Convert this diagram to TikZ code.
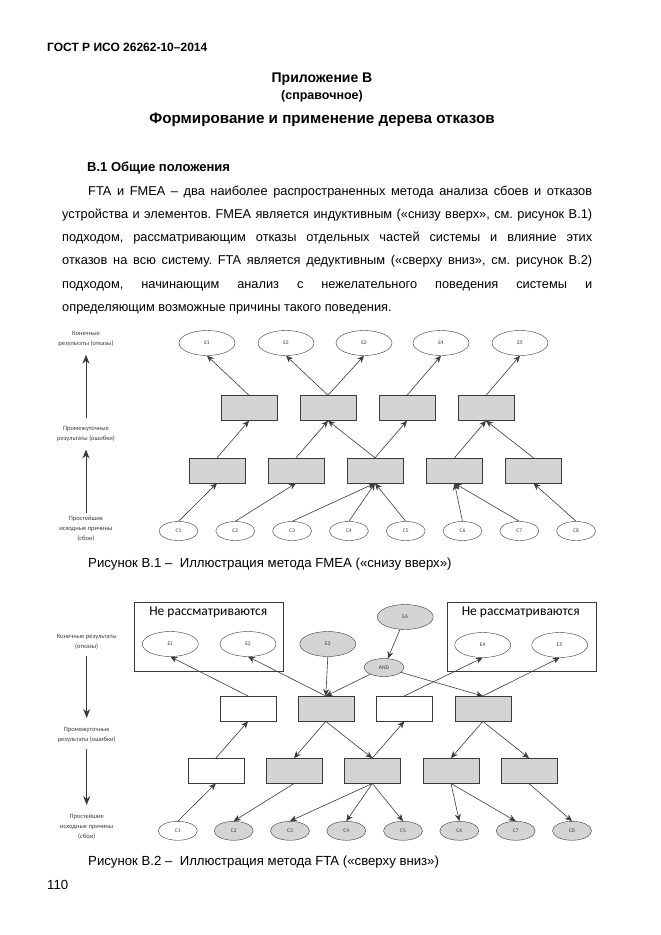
\documentclass[tikz,border=0pt]{standalone}
\usepackage{fontspec}
\setmainfont{Liberation Sans}
\newfontfamily\calfont{Carlito}
\usetikzlibrary{arrows.meta,shapes.geometric}
\definecolor{boxgray}{HTML}{D4D4D4}
\definecolor{edge}{HTML}{3A3A3A}
\frenchspacing

\begin{document}
\begin{tikzpicture}[
    x=1pt, y=-1pt,
    >={Stealth[length=7pt,width=6pt]},
    txt/.style={inner sep=0pt, anchor=base west, font=\fontsize{12.8}{15}\selectfont},
    hd/.style={inner sep=0pt, anchor=base, font=\bfseries\fontsize{15.2}{18}\selectfont},
    box/.style={draw=edge, fill=boxgray, minimum width=56pt, minimum height=25pt, inner sep=0pt},
    wbox/.style={box, fill=white},
    ev/.style={draw=edge, fill=white, ellipse, minimum width=56pt, minimum height=25pt, inner sep=0pt,
               font=\calfont\fontsize{5.5}{6}\selectfont, text=edge},
    gev/.style={ev, fill=boxgray},
    cause/.style={ev, minimum width=39pt, minimum height=19pt},
    gcause/.style={cause, fill=boxgray},
    frame/.style={draw=edge, minimum width=149pt, minimum height=69pt, inner sep=0pt},
    side/.style={align=center, inner sep=0pt, font=\calfont\fontsize{6.5}{9.8}\selectfont, text=edge},
    link/.style={draw=edge, line width=0.6pt, ->},
    axis/.style={draw=edge, line width=1pt, -{Stealth[length=9pt,width=7pt]}},
  ]
  \useasboundingbox (0,0) rectangle (661,935);

  % page text
  \node[txt, font=\bfseries\fontsize{12}{14}\selectfont] (gost) at (47,51) {ГОСТ Р ИСО 26262-10–2014};
  \node[hd, font=\bfseries\fontsize{14}{17}\selectfont] (app) at (322,82) {Приложение В};
  \node[hd, font=\bfseries\fontsize{12.5}{15}\selectfont] (ref) at (322,99) {(справочное)};
  \node[hd] (title) at (322,123) {Формирование и применение дерева отказов};
  \node[txt, font=\bfseries\fontsize{13}{15}\selectfont] (sec) at (87,171.5) {В.1 Общие положения};
  \node[txt] (p1) at (88,195) {\makebox[504pt][s]{FTA и FMEA – два наиболее распространенных метода анализа сбоев и отказов}};
  \node[txt] (p2) at (62,218.3) {\makebox[530pt][s]{устройства и элементов. FMEA является индуктивным («снизу вверх», см. рисунок В.1)}};
  \node[txt] (p3) at (62,241.6) {\makebox[530pt][s]{подходом, рассматривающим отказы отдельных частей системы и влияние этих}};
  \node[txt] (p4) at (62,264.9) {\makebox[530pt][s]{отказов на всю систему. FTA является дедуктивным («сверху вниз», см. рисунок В.2)}};
  \node[txt] (p5) at (62,288.2) {\makebox[530pt][s]{подходом, начинающим анализ с нежелательного поведения системы и}};
  \node[txt] (p6) at (62,311.5) {определяющим возможные причины такого поведения.};
  \node[txt, font=\fontsize{13.2}{15}\selectfont] (cap1) at (88,567.5) {Рисунок В.1 –\ \ Иллюстрация метода FMEA («снизу вверх»)};
  \node[txt, font=\fontsize{13.2}{15}\selectfont] (cap2) at (88,865.5) {Рисунок В.2 –\ \ Иллюстрация метода FTA («сверху вниз»)};
  \node[txt, font=\fontsize{13.2}{15}\selectfont] (page) at (47,889.5) {110};

  % figure B.1 (FMEA)
  \node[side] (fs1) at (86,339) {Конечные\\результаты (отказы)};
  \node[side] (fs2) at (86,433.8) {Промежуточные\\результаты (ошибки)};
  \node[side] (fs3) at (86,528.7) {Простейшие\\исходные причины\\(сбои)};
  \draw[axis, shorten <=8pt, shorten >=8pt] (fs2) -- (fs1);
  \draw[axis, shorten <=3pt, shorten >=8pt] (fs3) -- (fs2);

  \node[ev] (fe1) at (207,343) {E1};
  \node[ev] (fe2) at (286,343) {E2};
  \node[ev] (fe3) at (364,343) {E2};
  \node[ev] (fe4) at (441,343) {E4};
  \node[ev] (fe5) at (520,343) {E5};
  \node[box] (fu1) at (249,408) {};
  \node[box] (fu2) at (328,408) {};
  \node[box] (fu3) at (407,408) {};
  \node[box] (fu4) at (486,408) {};
  \node[box] (fl1) at (217,470.5) {};
  \node[box] (fl2) at (296,470.5) {};
  \node[box] (fl3) at (375,470.5) {};
  \node[box] (fl4) at (454.5,470.5) {};
  \node[box] (fl5) at (533.5,470.5) {};
  \node[cause] (fc1) at (178.5,531) {C1};
  \node[cause] (fc2) at (235.3,531) {C2};
  \node[cause] (fc3) at (292.1,531) {C3};
  \node[cause] (fc4) at (348.9,531) {C4};
  \node[cause] (fc5) at (405.7,531) {C5};
  \node[cause] (fc6) at (462.5,531) {C6};
  \node[cause] (fc7) at (519.3,531) {C7};
  \node[cause] (fc8) at (576.1,531) {C8};

  \draw[link] (fc1.north) -- (fl1.south);
  \draw[link] (fc2.north) -- (fl2.south);
  \draw[link] (fc3.north) -- (fl3.south);
  \draw[link] (fc4.north) -- (fl3.south);
  \draw[link] (fc5.north) -- (fl3.south);
  \draw[link] (fc6.north) -- (fl4.south);
  \draw[link] (fc7.north) -- (fl4.south);
  \draw[link] (fc8.north) -- (fl5.south);
  \draw[link] (fl1.north) -- (fu1.south);
  \draw[link] (fl2.north) -- (fu2.south);
  \draw[link] (fl3.north) -- (fu2.south);
  \draw[link] (fl3.north) -- (fu3.south);
  \draw[link] (fl4.north) -- (fu4.south);
  \draw[link] (fl5.north) -- (fu4.south);
  \draw[link] (fu1.north) -- (fe1.south);
  \draw[link] (fu2.north) -- (fe2.south);
  \draw[link] (fu2.north) -- (fe3.south);
  \draw[link] (fu3.north) -- (fe4.south);
  \draw[link] (fu4.north) -- (fe5.south);

  % figure B.2 (FTA)
  \node[side] (ts1) at (86.7,641.5) {Конечные результаты\\(отказы)};
  \node[side] (ts2) at (86.7,734.7) {Промежуточные\\результаты (ошибки)};
  \node[side] (ts3) at (86.7,826.7) {Простейшие\\исходные причины\\(сбои)};
  \draw[axis, shorten <=7pt, shorten >=9pt] (ts1) -- (ts2);
  \draw[axis, shorten <=7pt, shorten >=9pt] (ts2) -- (ts3);

  \node[frame] (nl) at (208.8,636.7) {};
  \node[frame] (nr) at (521.5,636.7) {};
  \node[font=\calfont\fontsize{13.5}{16}\selectfont] (nlt) at (208.3,612.3) {Не рассматриваются};
  \node[font=\calfont\fontsize{13.5}{16}\selectfont] (nrt) at (520.8,612.3) {Не рассматриваются};

  \node[ev] (te1) at (170.3,644) {E1};
  \node[ev] (te2) at (248,644) {E2};
  \node[gev] (te3) at (327.8,644) {E2};
  \node[gev] (te6) at (405.2,617) {E6};
  \node[gev, minimum width=40pt, minimum height=18pt] (and) at (384,667.5) {AND};
  \node[ev] (te4) at (482.7,645) {E4};
  \node[ev] (te5) at (559.7,645) {E5};
  \node[wbox] (tu1) at (248,708.7) {};
  \node[box] (tu2) at (325.8,708.7) {};
  \node[wbox] (tu3) at (404.3,708.7) {};
  \node[box] (tu4) at (482.8,708.7) {};
  \node[wbox] (tl1) at (215.8,770.8) {};
  \node[box] (tl2) at (294,770.8) {};
  \node[box] (tl3) at (372.3,770.8) {};
  \node[box] (tl4) at (451,770.8) {};
  \node[box] (tl5) at (529,770.8) {};
  \node[cause] (tc1) at (177.8,830.8) {C1};
  \node[gcause] (tc2) at (233.7,830.8) {C2};
  \node[gcause] (tc3) at (290,830.8) {C3};
  \node[gcause] (tc4) at (346.3,830.8) {C4};
  \node[gcause] (tc5) at (403,830.8) {C5};
  \node[gcause] (tc6) at (459.3,830.8) {C6};
  \node[gcause] (tc7) at (515.7,830.8) {C7};
  \node[gcause] (tc8) at (572,830.8) {C8};

  \draw[link] (te6) -- (and);
  \draw[link] (te3.south) -- (tu2.north);
  \draw[link] (and) -- (tu2.north);
  \draw[link] (and) -- (tu4.north);
  \draw[link] (tu1.north) -- (te1.south);
  \draw[link] (tu2.north) -- (te2.south);
  \draw[link] (tu3.north) -- (te4.south);
  \draw[link] (tu4.north) -- (te5.south);
  \draw[link] (tl1.north) -- (tu1.south);
  \draw[link] (tl3.north) -- (tu3.south);
  \draw[link] (tc1.north) -- (tl1.south);
  \draw[link] (tu2.south) -- (tl2.north);
  \draw[link] (tu2.south) -- (tl3.north);
  \draw[link] (tu4.south) -- (tl4.north);
  \draw[link] (tu4.south) -- (tl5.north);
  \draw[link] (tl2.south) -- (tc2.north);
  \draw[link] (tl3.south) -- (tc3.north);
  \draw[link] (tl3.south) -- (tc4.north);
  \draw[link] (tl3.south) -- (tc5.north);
  \draw[link] (tl4.south) -- (tc6.north);
  \draw[link] (tl4.south) -- (tc7.north);
  \draw[link] (tl5.south) -- (tc8.north);
\end{tikzpicture}
\end{document}
